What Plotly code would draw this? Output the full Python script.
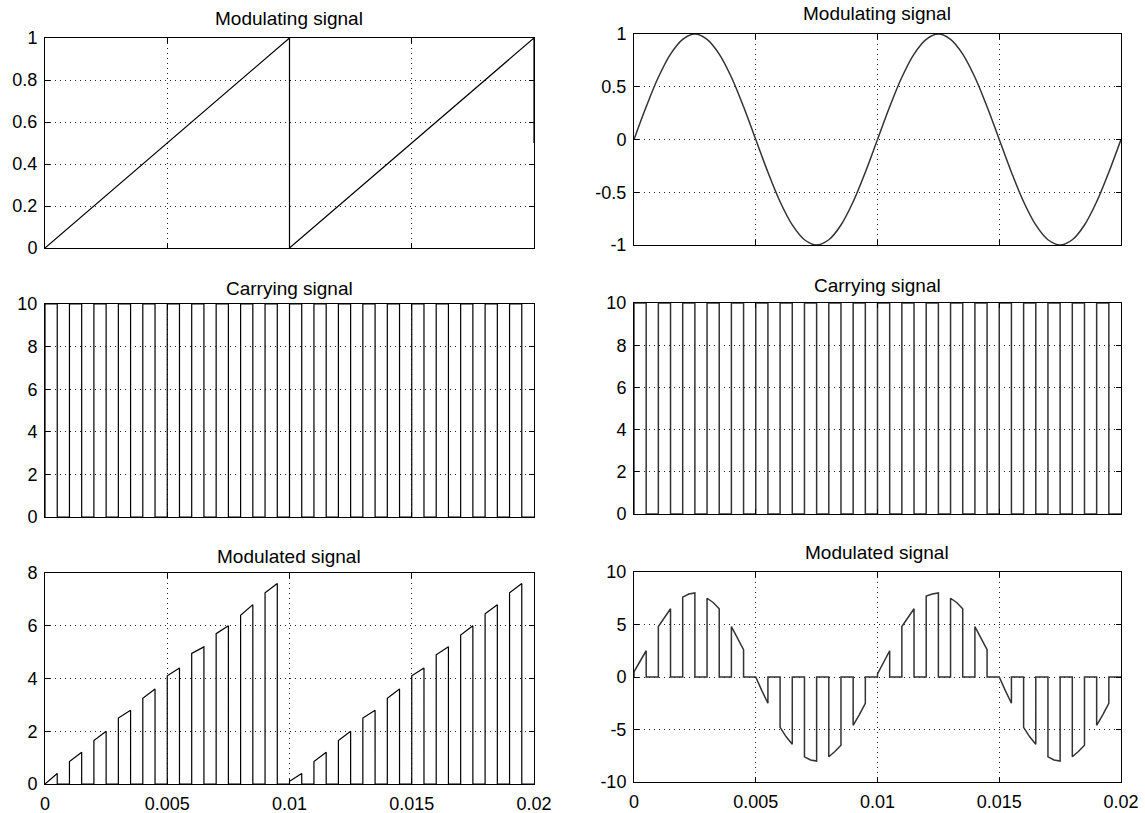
import plotly.graph_objects as go

# ---------------- data ----------------
# carrier pulses (high from start to end), period 1 ms, 50 % duty
pulse_start = [0.0, 0.001, 0.002, 0.003, 0.004, 0.005, 0.006, 0.007, 0.008, 0.009,
               0.010, 0.011, 0.012, 0.013, 0.014, 0.015, 0.016, 0.017, 0.018, 0.019]
pulse_end = [0.0005, 0.0015, 0.0025, 0.0035, 0.0045, 0.0055, 0.0065, 0.0075, 0.0085, 0.0095,
             0.0105, 0.0115, 0.0125, 0.0135, 0.0145, 0.0155, 0.0165, 0.0175, 0.0185, 0.0195]
carrier_level = 10

# left: sawtooth modulating signal (t, value)
saw_t = [0.0, 0.01, 0.01, 0.02, 0.02]
saw_v = [0.0, 1.0, 0.0, 1.0, 0.5]

# left: modulated signal, value at pulse start / pulse end
mod1_start = [0.0, 0.85, 1.65, 2.5, 3.25, 4.1, 4.95, 5.7, 6.4, 7.25,
              0.1, 0.85, 1.65, 2.5, 3.25, 4.1, 4.9, 5.65, 6.45, 7.25]
mod1_end = [0.4, 1.2, 2.0, 2.8, 3.6, 4.4, 5.2, 6.0, 6.8, 7.6,
            0.4, 1.2, 2.0, 2.8, 3.6, 4.4, 5.2, 6.0, 6.8, 7.6]

# right: sine modulating signal
sine_t = [0.0, 0.0005, 0.001, 0.0015, 0.002, 0.0025, 0.003, 0.0035, 0.004, 0.0045,
          0.005, 0.0055, 0.006, 0.0065, 0.007, 0.0075, 0.008, 0.0085, 0.009, 0.0095,
          0.01, 0.0105, 0.011, 0.0115, 0.012, 0.0125, 0.013, 0.0135, 0.014, 0.0145,
          0.015, 0.0155, 0.016, 0.0165, 0.017, 0.0175, 0.018, 0.0185, 0.019, 0.0195, 0.02]
sine_v = [0.0, 0.31, 0.59, 0.81, 0.95, 1.0, 0.95, 0.81, 0.59, 0.31,
          0.0, -0.31, -0.59, -0.81, -0.95, -1.0, -0.95, -0.81, -0.59, -0.31,
          0.0, 0.31, 0.59, 0.81, 0.95, 1.0, 0.95, 0.81, 0.59, 0.31,
          0.0, -0.31, -0.59, -0.81, -0.95, -1.0, -0.95, -0.81, -0.59, -0.31, 0.0]

# right: modulated signal, value at pulse start / middle / end
mod2_start = [0.5, 4.8, 7.6, 7.5, 4.8, 0.0, -4.8, -7.6, -7.6, -4.6,
              0.3, 4.8, 7.7, 7.5, 4.8, 0.0, -4.8, -7.6, -7.6, -4.6]
mod2_mid = [1.5, 5.7, 7.9, 7.1, 3.7, -1.3, -5.7, -7.9, -7.1, -3.6,
            1.4, 5.7, 7.9, 7.1, 3.7, -1.3, -5.7, -7.9, -7.1, -3.6]
mod2_end = [2.5, 6.5, 8.0, 6.5, 2.6, -2.5, -6.4, -8.0, -6.5, -2.5,
            2.5, 6.5, 8.0, 6.5, 2.6, -2.5, -6.4, -8.0, -6.5, -2.5]

x_ticks = [0, 0.005, 0.01, 0.015, 0.02]
x_ticktext = ['0', '0.005', '0.01', '0.015', '0.02']

# ---------------- build traces ----------------
def carrier_xy():
    xs, ys = [], []
    for s, e in zip(pulse_start, pulse_end):
        xs += [s, s, e, e]
        ys += [0, carrier_level, carrier_level, 0]
    xs.append(0.02); ys.append(0)
    return xs, ys

def mod1_xy():
    xs, ys = [], []
    for s, e, a, b in zip(pulse_start, pulse_end, mod1_start, mod1_end):
        xs += [s, s, e, e]
        ys += [0, a, b, 0]
    xs.append(0.02); ys.append(0)
    return xs, ys

def mod2_xy():
    xs, ys = [], []
    for s, e, a, m, b in zip(pulse_start, pulse_end, mod2_start, mod2_mid, mod2_end):
        xs += [s, s, (s + e) / 2, e, e]
        ys += [0, a, m, b, 0]
    xs.append(0.02); ys.append(0)
    return xs, ys

fig = go.Figure()
LEFT = dict(color='black', width=1.2)
RIGHT = dict(color='#333333', width=1.5)

cx, cy = carrier_xy()
m1x, m1y = mod1_xy()
m2x, m2y = mod2_xy()

fig.add_trace(go.Scatter(x=saw_t, y=saw_v, mode='lines', line=LEFT, xaxis='x', yaxis='y'))
fig.add_trace(go.Scatter(x=sine_t, y=sine_v, mode='lines', line=dict(RIGHT, shape='spline'),
                         xaxis='x2', yaxis='y2'))
fig.add_trace(go.Scatter(x=cx, y=cy, mode='lines', line=LEFT, xaxis='x3', yaxis='y3'))
fig.add_trace(go.Scatter(x=cx, y=cy, mode='lines', line=RIGHT, xaxis='x4', yaxis='y4'))
fig.add_trace(go.Scatter(x=m1x, y=m1y, mode='lines', line=LEFT, xaxis='x5', yaxis='y5'))
fig.add_trace(go.Scatter(x=m2x, y=m2y, mode='lines', line=RIGHT, xaxis='x6', yaxis='y6'))

W, H = 1145, 813
def px_x(a, b):
    return [a / W, b / W]
def px_y(top, bottom):
    return [1 - bottom / H, 1 - top / H]

col_x = [px_x(45, 534), px_x(634, 1121)]
rows_y = [
    [px_y(38, 248), px_y(34, 245)],
    [px_y(304, 517), px_y(303, 514)],
    [px_y(573, 784), px_y(572, 782)],
]

yspecs = [
    [([0, 1], [0, 0.2, 0.4, 0.6, 0.8, 1], ['0', '0.2', '0.4', '0.6', '0.8', '1']),
     ([-1, 1], [-1, -0.5, 0, 0.5, 1], ['-1', '-0.5', '0', '0.5', '1'])],
    [([0, 10], [0, 2, 4, 6, 8, 10], ['0', '2', '4', '6', '8', '10']),
     ([0, 10], [0, 2, 4, 6, 8, 10], ['0', '2', '4', '6', '8', '10'])],
    [([0, 8], [0, 2, 4, 6, 8], ['0', '2', '4', '6', '8']),
     ([-10, 10], [-10, -5, 0, 5, 10], ['-10', '-5', '0', '5', '10'])],
]

FONT = dict(family='Liberation Sans, Arial, sans-serif', size=18, color='black')
GRID = dict(showgrid=True, gridcolor='#222222', gridwidth=1, griddash='1px,4px')
AX = dict(showline=True, linecolor='black', linewidth=1, mirror='ticks', ticks='inside',
          ticklen=5, tickcolor='black', zeroline=False, tickfont=FONT, fixedrange=True,
          automargin=False, ticklabelstandoff=3)

layout = {}
idx = 0
for r in range(3):
    for c in range(2):
        idx += 1
        xn = 'xaxis' if idx == 1 else f'xaxis{idx}'
        yn = 'yaxis' if idx == 1 else f'yaxis{idx}'
        rng, tv, tt = yspecs[r][c]
        layout[xn] = dict(AX, **GRID, domain=col_x[c], range=[0, 0.02], tickvals=x_ticks,
                          ticktext=x_ticktext, showticklabels=(r == 2),
                          anchor=f'y{idx}' if idx > 1 else 'y')
        layout[yn] = dict(AX, **GRID, domain=rows_y[r][c], range=rng, tickvals=tv,
                          ticktext=tt, anchor=f'x{idx}' if idx > 1 else 'x')

fig.update_layout(**layout)

titles = [
    ('Modulating signal', 289, 18), ('Modulating signal', 877, 13),
    ('Carrying signal', 289, 288), ('Carrying signal', 877, 285),
    ('Modulated signal', 289, 556), ('Modulated signal', 877, 552),
]
for text, xc, yc in titles:
    fig.add_annotation(text=text, x=xc / W, y=1 - yc / H,
                       xref='paper', yref='paper',
                       showarrow=False, xanchor='center', yanchor='middle',
                       font=dict(FONT, size=19))

fig.update_layout(width=W, height=H, margin=dict(l=0, r=0, t=0, b=0),
                  paper_bgcolor='white', plot_bgcolor='white', showlegend=False)

fig.write_html('out.html', config={'displayModeBar': False},
               post_script="document.body.style.margin='0';"
                           "document.body.style.overflow='hidden';")
